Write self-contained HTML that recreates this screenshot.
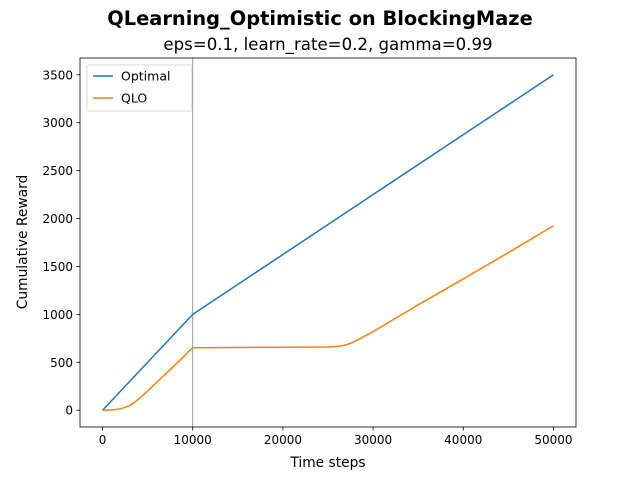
<!DOCTYPE html>
<html><head><meta charset="utf-8"><style>
body{margin:0;background:#fff;font-family:"DejaVu Sans","Liberation Sans",sans-serif}
svg text{font-family:"DejaVu Sans","Liberation Sans",sans-serif}
</style></head><body>
<svg id="chart" width="640" height="480" xmlns="http://www.w3.org/2000/svg">
<rect width="640" height="480" fill="#fff"/>
<text x="320" y="25" text-anchor="middle" font-size="19.4" font-weight="bold">QLearning_Optimistic on BlockingMaze</text>
<text x="328" y="50" text-anchor="middle" font-size="16.6">eps=0.1, learn_rate=0.2, gamma=0.99</text>
<g id="plot"></g>
<text x="328" y="467" text-anchor="middle" font-size="13.8">Time steps</text>
<text transform="translate(27,242) rotate(-90)" text-anchor="middle" font-size="13.8">Cumulative Reward</text>
</svg>
<script>
const xTicks=[0,10000,20000,30000,40000,50000];
const yTicks=[0,500,1000,1500,2000,2500,3000,3500];
const optX=[0,10000,50000];
const optY=[0,1000,3500];
const qloX=[0,500,1000,1500,2000,2500,3000,3500,4000,5000,6000,7000,8000,9000,9500,10000,15000,20000,25000,25500,26000,26500,27000,27500,28000,28500,29000,30000,35000,40000,45000,50000];
const qloY=[0,1,3,8,16,30,50,80,115,200,290,380,470,560,610,652,655,657,660,662,666,672,682,698,720,745,770,820,1100,1370,1645,1925];
const blockX=10000;
const L=80,R=576,T=58,B=427;
const xs=v=>L+(v+2500)/55000*(R-L);
const ys=v=>B-(v+175)/3850*(B-T);
const NS="http://www.w3.org/2000/svg";
const g=document.getElementById('plot');
function mk(t,a){const e=document.createElementNS(NS,t);for(const k in a)e.setAttribute(k,a[k]);g.appendChild(e);return e;}
let e=mk('line',{x1:xs(blockX),x2:xs(blockX),y1:T,y2:B,stroke:'#808080','stroke-width':0.8});


function series(X,Y,c,n){const p=mk('polyline',{points:X.map((x,i)=>xs(x)+','+ys(Y[i])).join(' '),fill:'none',stroke:c,'stroke-width':1.5,'stroke-linejoin':'round'});

}
series(optX,optY,'#1f77b4','optimal-line');
series(qloX,qloY,'#ff7f0e','qlo-line');
e=mk('rect',{x:L,y:T,width:R-L,height:B-T,fill:'none',stroke:'#000','stroke-width':0.8});


xTicks.forEach(v=>{const x=xs(v);mk('line',{x1:x,x2:x,y1:B,y2:B+3.5,stroke:'#000','stroke-width':0.8});
const t=mk('text',{x:x,y:B+17,'text-anchor':'middle','font-size':12});t.textContent=v;

});
yTicks.forEach(v=>{const y=ys(v);mk('line',{x1:L-3.5,x2:L,y1:y,y2:y,stroke:'#000','stroke-width':0.8});
const t=mk('text',{x:L-7,y:y+4.5,'text-anchor':'end','font-size':12});t.textContent=v;

});
e=mk('rect',{x:87,y:65,width:105,height:46,rx:2,fill:'#fff','fill-opacity':0.8,stroke:'#ccc','stroke-width':0.8});


[['Optimal','#1f77b4',76],['QLO','#ff7f0e',98]].forEach(([n,c,y])=>{
mk('line',{x1:93,x2:113,y1:y,y2:y,stroke:c,'stroke-width':1.5});
const t=mk('text',{x:121,y:y+4.5,'font-size':12.5});t.textContent=n;

});
</script>
</body></html>
